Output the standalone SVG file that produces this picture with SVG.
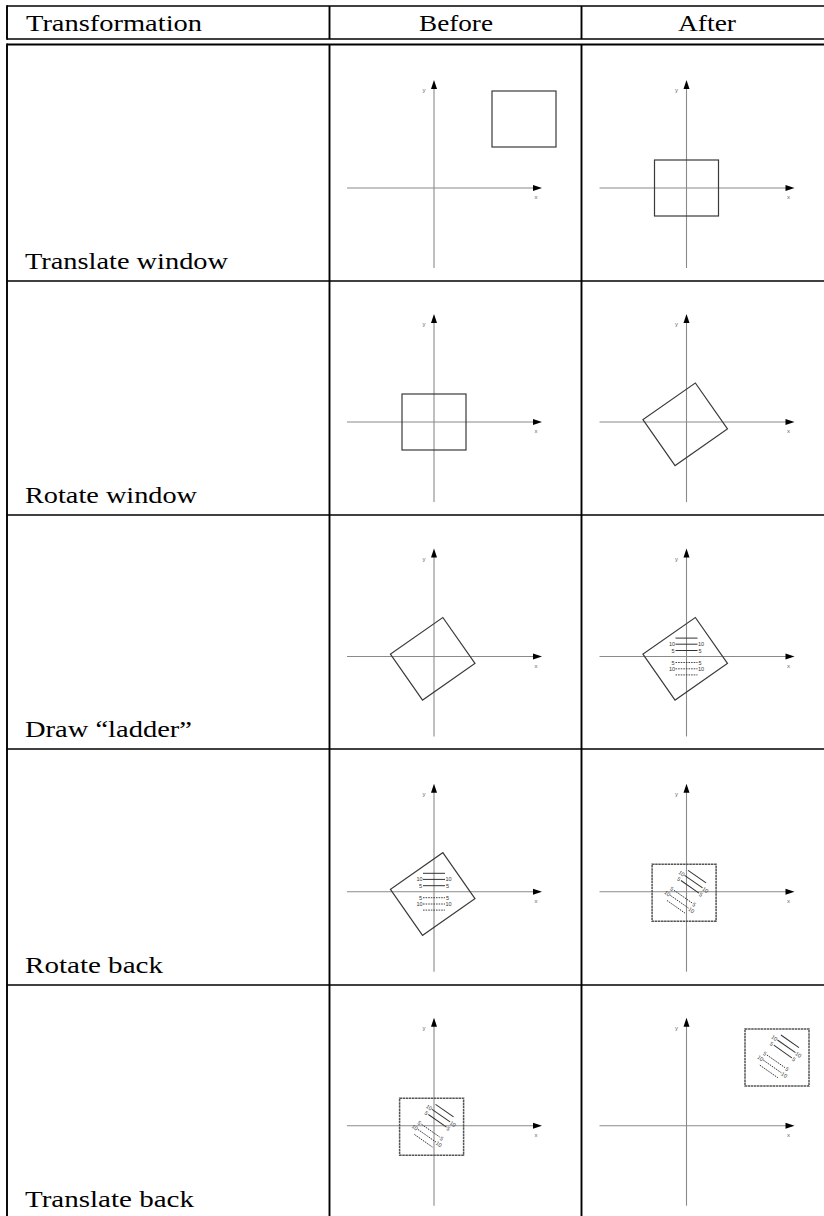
<svg xmlns="http://www.w3.org/2000/svg" width="824" height="1216" viewBox="0 0 824 1216">
<style>
  .rule { stroke:#000; fill:none }
  .h { stroke-width:1.4 }
  .v { stroke-width:1.9 }
  .t { font-family:"Liberation Serif","Times New Roman",serif; font-size:23.5px; fill:#000 }
  .ax { stroke:#8a8a8a; stroke-width:1.1; fill:none }
  .ah { fill:#000 }
  .al { font-family:"Liberation Sans",Arial,sans-serif; font-size:6px; fill:#666; text-anchor:middle }
  .win { fill:none; stroke:#3a3a3a; stroke-width:1.2 }
  .win2 { fill:none; stroke:#555; stroke-width:1.5; stroke-dasharray:2.5 0.6 }
  .rs { stroke:#333; stroke-width:1 }
  .rd { stroke:#333; stroke-width:0.9; stroke-dasharray:1.6 1 }
  .ll { font-family:"Liberation Sans",Arial,sans-serif; font-size:5.5px; fill:#333 }
  .lr { text-anchor:end }
</style>
<defs>
  <g id="axes">
    <line class="ax" x1="-87" y1="0" x2="101" y2="0"/>
    <line class="ax" x1="0" y1="80" x2="0" y2="-101"/>
    <path class="ah" d="M108,0 L99,-3 L99,3 Z"/>
    <path class="ah" d="M0,-108 L-3,-99 L3,-99 Z"/>
    <text class="al" x="-10" y="-96">y</text>
    <text class="al" x="102" y="11">x</text>
  </g>
  <g id="ladder">
    <line class="rs" x1="-11" y1="-18.4" x2="11" y2="-18.4"/>
    <line class="rs" x1="-11" y1="-12.3" x2="11" y2="-12.3"/>
    <line class="rs" x1="-11" y1="-6" x2="11" y2="-6"/>
    <line class="rd" x1="-11" y1="6" x2="11" y2="6"/>
    <line class="rd" x1="-11" y1="12.3" x2="11" y2="12.3"/>
    <line class="rd" x1="-11" y1="18.4" x2="11" y2="18.4"/>
    <text class="ll lr" x="-11.5" y="-10.3">10</text>
    <text class="ll" x="11.5" y="-10.3">10</text>
    <text class="ll lr" x="-12" y="-4">5</text>
    <text class="ll" x="12" y="-4">5</text>
    <text class="ll lr" x="-12" y="8">5</text>
    <text class="ll" x="12" y="8">5</text>
    <text class="ll lr" x="-11.5" y="14.3">10</text>
    <text class="ll" x="11.5" y="14.3">10</text>
  </g>
  <rect id="sq" class="win" x="-32" y="-28" width="64" height="56"/>
  <g id="rotwin">
    <rect class="win" x="-32" y="-28" width="64" height="56" transform="translate(-1.3,2.3) rotate(-35)"/>
  </g>
  <g id="backwin">
    <rect class="win2" x="-34.4" y="-27.4" width="64" height="57"/>
    <use href="#ladder" transform="rotate(35)"/>
  </g>
</defs>

<g id="table-rules">
  <line class="rule h" x1="7" y1="6" x2="824" y2="6"/>
  <line class="rule h" x1="7" y1="39" x2="824" y2="39"/>
  <line class="rule v" x1="7" y1="5.3" x2="7" y2="39.7"/>
  <line class="rule v" x1="329.5" y1="6" x2="329.5" y2="39"/>
  <line class="rule v" x1="581.5" y1="6" x2="581.5" y2="39"/>
  <line class="rule" stroke-width="2" x1="7" y1="44.5" x2="824" y2="44.5"/>
  <line class="rule v" x1="7" y1="43.5" x2="7" y2="1216"/>
  <line class="rule v" x1="329.5" y1="44.5" x2="329.5" y2="1216"/>
  <line class="rule v" x1="581.5" y1="44.5" x2="581.5" y2="1216"/>
  <line class="rule" stroke-width="1.6" x1="7" y1="281" x2="824" y2="281"/>
  <line class="rule" stroke-width="1.6" x1="7" y1="515" x2="824" y2="515"/>
  <line class="rule" stroke-width="1.6" x1="7" y1="749" x2="824" y2="749"/>
  <line class="rule" stroke-width="1.6" x1="7" y1="985" x2="824" y2="985"/>
</g>

<g id="header">
  <text class="t" x="26" y="30.5" textLength="176" lengthAdjust="spacingAndGlyphs">Transformation</text>
  <text class="t" x="419" y="30.5" textLength="74" lengthAdjust="spacingAndGlyphs">Before</text>
  <text class="t" x="678" y="30.5" textLength="58" lengthAdjust="spacingAndGlyphs">After</text>
</g>

<g id="row1">
  <text id="r1-label" class="t" x="25" y="269" textLength="203" lengthAdjust="spacingAndGlyphs">Translate window</text>
  <g id="r1-before" transform="translate(434,188)">
    <use href="#axes"/>
    <rect class="win" x="58" y="-97" width="64" height="56"/>
  </g>
  <g id="r1-after" transform="translate(686.5,188)">
    <use href="#axes"/>
    <use href="#sq"/>
  </g>
</g>

<g id="row2">
  <text id="r2-label" class="t" x="25" y="503" textLength="172" lengthAdjust="spacingAndGlyphs">Rotate window</text>
  <g id="r2-before" transform="translate(434,422)">
    <use href="#axes"/>
    <use href="#sq"/>
  </g>
  <g id="r2-after" transform="translate(686.5,422)">
    <use href="#axes"/>
    <use href="#rotwin"/>
  </g>
</g>

<g id="row3">
  <text id="r3-label" class="t" x="25" y="737" textLength="167" lengthAdjust="spacingAndGlyphs">Draw “ladder”</text>
  <g id="r3-before" transform="translate(434,656.5)">
    <use href="#axes"/>
    <use href="#rotwin"/>
  </g>
  <g id="r3-after" transform="translate(686.5,656.5)">
    <use href="#axes"/>
    <use href="#rotwin"/>
    <use href="#ladder"/>
  </g>
</g>

<g id="row4">
  <text id="r4-label" class="t" x="25" y="973" textLength="138" lengthAdjust="spacingAndGlyphs">Rotate back</text>
  <g id="r4-before" transform="translate(434,891.7)">
    <use href="#axes"/>
    <use href="#rotwin"/>
    <use href="#ladder"/>
  </g>
  <g id="r4-after" transform="translate(686.5,891.7)">
    <use href="#axes"/>
    <use href="#backwin"/>
  </g>
</g>

<g id="row5">
  <text id="r5-label" class="t" x="25" y="1207" textLength="169" lengthAdjust="spacingAndGlyphs">Translate back</text>
  <g id="r5-before" transform="translate(434,1125.7)">
    <use href="#axes"/>
    <use href="#backwin"/>
  </g>
  <g id="r5-after" transform="translate(686.5,1125.7)">
    <use href="#axes"/>
    <use href="#backwin" transform="translate(92.9,-69.3)"/>
  </g>
</g>
</svg>
